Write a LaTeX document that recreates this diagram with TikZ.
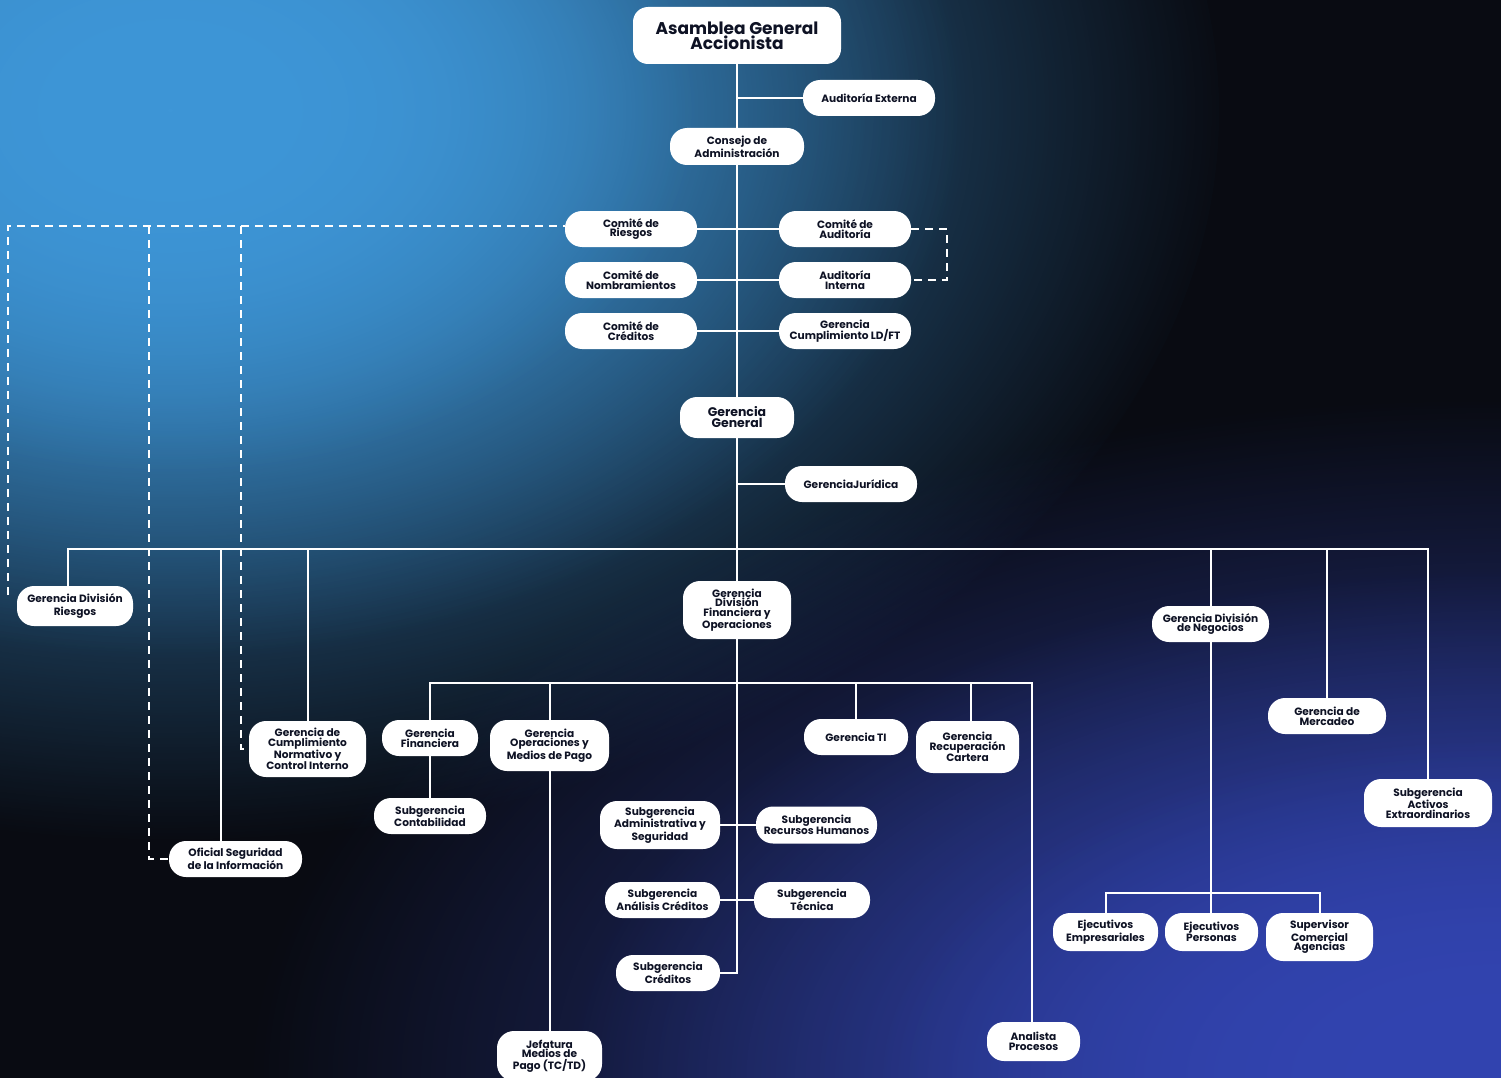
\documentclass[tikz,border=0pt]{standalone}
\usepackage{fontspec}
\setmainfont{Poppins}
\usetikzlibrary{fadings}
\definecolor{bgbase}{RGB}{9,11,18}
\definecolor{glowtl}{RGB}{62,150,215}
\definecolor{glowbr}{RGB}{50,68,176}
\definecolor{txt}{RGB}{14,18,36}
\tikzfading[name=glow, inner color=transparent!0, outer color=transparent!100]
\begin{document}
\begin{tikzpicture}[x=1pt,y=-1pt,
  box/.style={fill=white, rounded corners=17pt, text=txt, align=center, inner sep=0pt,
    font=\fontsize{10.6}{9.6}\selectfont\bfseries},
  ln/.style={draw=white, line width=2pt},
  dsh/.style={draw=white, line width=2pt, dash pattern=on 8pt off 6pt}]
% background
\fill[bgbase] (0,0) rectangle (1501,1078);
\begin{scope}
\clip (0,0) rectangle (1501,1078);
\foreach \s in {1,0.75,0.5}{
  \fill[glowtl, path fading=glow] (170,110) ellipse [x radius=1060*\s, y radius=730*\s];
  \fill[glowbr, path fading=glow] (1501,1078) ellipse [x radius=1250*\s, y radius=680*\s];
}
\end{scope}
\useasboundingbox (0,0) rectangle (1501,1078);

% nodes
\node[box, font=\fontsize{17}{15}\selectfont\bfseries, minimum width=208pt, minimum height=57pt, rounded corners=15pt] (asm) at (737,35.5) {Asamblea General\\Accionista};
\node[box, minimum width=132pt, minimum height=36pt] (ext) at (869,98) {Auditoría Externa};
\node[box, minimum width=134pt, minimum height=37pt] (cons) at (737,146.5) {Consejo de\\Administración};
\node[box, minimum width=132pt, minimum height=36pt] (crie) at (631,229) {Comité de\\Riesgos};
\node[box, minimum width=132pt, minimum height=36pt] (caud) at (845,229) {Comité de\\Auditoría};
\node[box, minimum width=132pt, minimum height=36pt] (cnom) at (631,280) {Comité de\\Nombramientos};
\node[box, minimum width=132pt, minimum height=36pt] (aint) at (845,280) {Auditoría\\Interna};
\node[box, minimum width=132pt, minimum height=36pt] (ccre) at (631,331) {Comité de\\Créditos};
\node[box, minimum width=132pt, minimum height=36pt] (gcum) at (845,331) {Gerencia\\Cumplimiento LD/FT};
\node[box, font=\fontsize{12.5}{11}\selectfont\bfseries, minimum width=114pt, minimum height=41pt] (gg) at (737,417.5) {Gerencia\\General};
\node[box, minimum width=132pt, minimum height=36pt] (jur) at (851,484) {GerenciaJurídica};
\node[box, font=\fontsize{10.6}{13.5}\selectfont\bfseries, minimum width=116pt, minimum height=40pt] (gdr) at (75,606) {Gerencia División\\Riesgos};
\node[box, minimum width=117pt, minimum height=56pt] (gcn) at (307.5,749) {Gerencia de\\Cumplimiento\\Normativo y\\Control Interno};
\node[box, minimum width=133pt, minimum height=36pt] (ofs) at (235.5,859) {Oficial Seguridad\\de la Información};
\node[box, minimum width=108pt, minimum height=58pt] (gdfo) at (737,610) {Gerencia\\División\\Financiera y\\Operaciones};
\node[box, minimum width=96pt, minimum height=36pt] (gfin) at (430,738) {Gerencia\\Financiera};
\node[box, minimum width=112pt, minimum height=36pt] (scon) at (430,816) {Subgerencia\\Contabilidad};
\node[box, minimum width=119pt, minimum height=51pt] (gop) at (549.5,745.5) {Gerencia\\Operaciones y\\Medios de Pago};
\node[box, minimum width=105pt, minimum height=50pt] (jmp) at (549.5,1056) {Jefatura\\Medios de\\Pago (TC/TD)};
\node[box, minimum width=104pt, minimum height=36pt] (gti) at (856,737) {Gerencia TI};
\node[box, minimum width=103pt, minimum height=52pt] (grc) at (967.5,747) {Gerencia\\Recuperación\\Cartera};
\node[box, minimum width=93pt, minimum height=39pt] (anp) at (1033.5,1041.5) {Analista\\Procesos};
\node[box, minimum width=120pt, minimum height=48pt] (sga) at (660,825) {Subgerencia\\Administrativa y\\Seguridad};
\node[box, minimum width=121pt, minimum height=37pt] (srh) at (816.5,825) {Subgerencia\\Recursos Humanos};
\node[box, minimum width=115pt, minimum height=36pt] (sac) at (662.5,900) {Subgerencia\\Análisis Créditos};
\node[box, minimum width=116pt, minimum height=36pt] (stc) at (812,900) {Subgerencia\\Técnica};
\node[box, minimum width=104pt, minimum height=36pt] (sgc) at (668,973) {Subgerencia\\Créditos};
\node[box, minimum width=117pt, minimum height=36pt] (gdn) at (1210.5,624) {Gerencia División\\de Negocios};
\node[box, minimum width=105pt, minimum height=38pt] (eje) at (1105.5,932) {Ejecutivos\\Empresariales};
\node[box, minimum width=93pt, minimum height=38pt] (ejp) at (1211.5,932) {Ejecutivos\\Personas};
\node[box, minimum width=107pt, minimum height=48pt] (sca) at (1319.5,937) {Supervisor\\Comercial\\Agencias};
\node[box, minimum width=118pt, minimum height=36pt] (gme) at (1327,716) {Gerencia de\\Mercadeo};
\node[box, minimum width=128pt, minimum height=48pt] (sae) at (1428,803) {Subgerencia\\Activos\\Extraordinarios};

% solid connectors
\draw[ln] (asm.south) -- (cons.north);
\draw[ln] (asm.south |- ext.west) -- (ext.west);
\draw[ln] (cons.south) -- (gg.north);
\draw[ln] (crie.east) -- (caud.west);
\draw[ln] (cnom.east) -- (aint.west);
\draw[ln] (ccre.east) -- (gcum.west);
\draw[ln] (gg.south) -- (gdfo.north);
\draw[ln] (gg.south |- jur.west) -- (jur.west);
\coordinate (bus) at (737,549);
\draw[ln] ([xshift=-7pt]gdr.north) |- (bus) -| (sae.north);
\draw[ln] ([xshift=-14.5pt]ofs.north) |- (bus);
\draw[ln] (gcn.north) |- (bus);
\draw[ln] (gdn.north) |- (bus);
\draw[ln] (gme.north) |- (bus);
\coordinate (sbus) at (737,683);
\draw[ln] (gfin.north) |- (sbus) -| ([xshift=-1.5pt]anp.north);
\draw[ln] (gop.north) |- (sbus);
\draw[ln] (gti.north) |- (sbus);
\draw[ln] ([xshift=3.5pt]grc.north) |- (sbus);
\draw[ln] (gfin.south) -- (scon.north);
\draw[ln] (gop.south) -- (jmp.north);
\draw[ln] (gdfo.south) |- (sgc.east);
\draw[ln] (sga.east) -- (srh.west);
\draw[ln] (sac.east) -- (stc.west);
\draw[ln] (gdn.south) -- (gdn.south |- ejp.north);
\coordinate (nbus) at (1211,893);
\draw[ln] (eje.north) |- (nbus) -| (sca.north);

% dashed connectors
\coordinate (dL) at (8,595);
\coordinate (dR) at (565,226);
\coordinate (j1) at (149,226);
\coordinate (j2) at (241,226);
\draw[dsh] (dL) |- (dR);
\draw[dsh] (j1) |- (ofs.west);
\draw[dsh] (j2) |- (gcn.west);
\draw[dsh] (caud.east) -- ++(36,0) |- (aint.east);
\end{tikzpicture}
\end{document}
